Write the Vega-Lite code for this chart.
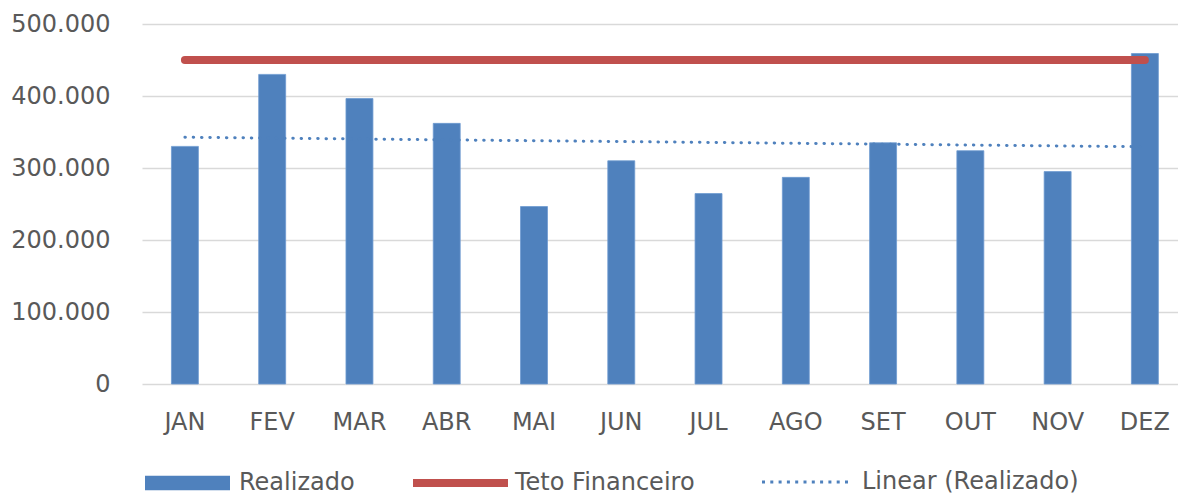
{
  "$schema": "https://vega.github.io/schema/vega-lite/v6.json",
  "width": 1036,
  "height": 360,
  "autosize": {"type": "none"},
  "padding": {"left": 142, "top": 24, "right": 0, "bottom": 111},
  "background": "#ffffff",
  "datasets": {
    "meses": [
      {"mes": "JAN", "realizado": 330000, "teto": 450000},
      {"mes": "FEV", "realizado": 430000, "teto": 450000},
      {"mes": "MAR", "realizado": 396500, "teto": 450000},
      {"mes": "ABR", "realizado": 362000, "teto": 450000},
      {"mes": "MAI", "realizado": 246500, "teto": 450000},
      {"mes": "JUN", "realizado": 310000, "teto": 450000},
      {"mes": "JUL", "realizado": 264500, "teto": 450000},
      {"mes": "AGO", "realizado": 287000, "teto": 450000},
      {"mes": "SET", "realizado": 335000, "teto": 450000},
      {"mes": "OUT", "realizado": 324000, "teto": 450000},
      {"mes": "NOV", "realizado": 295000, "teto": 450000},
      {"mes": "DEZ", "realizado": 459000, "teto": 450000}
    ],
    "tendencia": [
      {"mes": "JAN", "linear": 342700},
      {"mes": "DEZ", "linear": 329500}
    ]
  },
  "encoding": {
    "x": {
      "field": "mes",
      "type": "ordinal",
      "sort": ["JAN","FEV","MAR","ABR","MAI","JUN","JUL","AGO","SET","OUT","NOV","DEZ"],
      "scale": {"paddingInner": 0.691, "paddingOuter": 0.281, "align": 0.6},
      "axis": {
        "title": null,
        "labelAngle": 0,
        "labelFont": "DejaVu Sans",
        "labelFontSize": 24,
        "labelColor": "#595959",
        "labelPadding": 26,
        "ticks": false,
        "tickSize": 0,
        "domain": false,
        "grid": false
      }
    }
  },
  "layer": [
    {
      "data": {"name": "meses"},
      "mark": {"type": "bar", "stroke": "#6f9bd1", "strokeWidth": 0.8},
      "encoding": {
        "y": {
          "field": "realizado",
          "type": "quantitative",
          "scale": {"domain": [0, 500000], "nice": false},
          "axis": {
            "title": null,
            "values": [0, 100000, 200000, 300000, 400000, 500000],
            "labelExpr": "replace(format(datum.value, ','), ',', '.')",
            "labelFont": "DejaVu Sans",
            "labelFontSize": 24,
            "labelColor": "#595959",
            "labelPadding": 32,
            "ticks": false,
            "tickSize": 0,
            "domain": false,
            "grid": true,
            "gridColor": "#d9d9d9",
            "gridWidth": 1.6
          }
        },
        "color": {
          "datum": "Realizado",
          "type": "nominal",
          "scale": {"domain": ["Realizado"], "range": ["#4f81bd"]},
          "legend": {
            "title": null,
            "orient": "none",
            "legendX": 3,
            "legendY": 416.5,
            "padding": 0,
            "labelFont": "DejaVu Sans",
            "labelFontSize": 24,
            "labelColor": "#595959",
            "labelOffset": 9,
            "labelLimit": 0,
            "symbolSize": 7225,
            "symbolType": "M-1,-0.17H1V0.17H-1Z",
            "symbolStrokeWidth": 0
          }
        }
      }
    },
    {
      "data": {"name": "tendencia"},
      "mark": {"type": "line", "strokeWidth": 3, "strokeDash": [0.5, 7.8], "strokeCap": "round"},
      "encoding": {
        "y": {"field": "linear", "type": "quantitative"},
        "color": {
          "datum": "Linear (Realizado)",
          "type": "nominal",
          "scale": {"domain": ["Linear (Realizado)"], "range": ["#4f81bd"]},
          "legend": {
            "title": null,
            "orient": "none",
            "legendX": 618.5,
            "legendY": 411.5,
            "padding": 0,
            "labelFont": "DejaVu Sans",
            "labelFontSize": 24,
            "labelColor": "#595959",
            "labelOffset": 8.5,
            "labelLimit": 0,
            "symbolSize": 8100,
            "symbolType": "stroke",
            "symbolStrokeWidth": 3,
            "symbolDash": [3, 5.3]
          }
        }
      }
    },
    {
      "data": {"name": "meses"},
      "mark": {"type": "line", "strokeWidth": 8, "strokeCap": "round"},
      "encoding": {
        "y": {"field": "teto", "type": "quantitative"},
        "color": {
          "datum": "Teto Financeiro",
          "type": "nominal",
          "scale": {"domain": ["Teto Financeiro"], "range": ["#c0504d"]},
          "legend": {
            "title": null,
            "orient": "none",
            "legendX": 267,
            "legendY": 407.5,
            "padding": 0,
            "labelFont": "DejaVu Sans",
            "labelFontSize": 24,
            "labelColor": "#595959",
            "labelOffset": 3,
            "labelLimit": 0,
            "symbolSize": 9025,
            "symbolType": "stroke",
            "symbolStrokeWidth": 8
          }
        }
      }
    }
  ],
  "resolve": {"scale": {"color": "independent"}, "legend": {"color": "independent"}},
  "config": {
    "view": {"stroke": null}
  }
}
